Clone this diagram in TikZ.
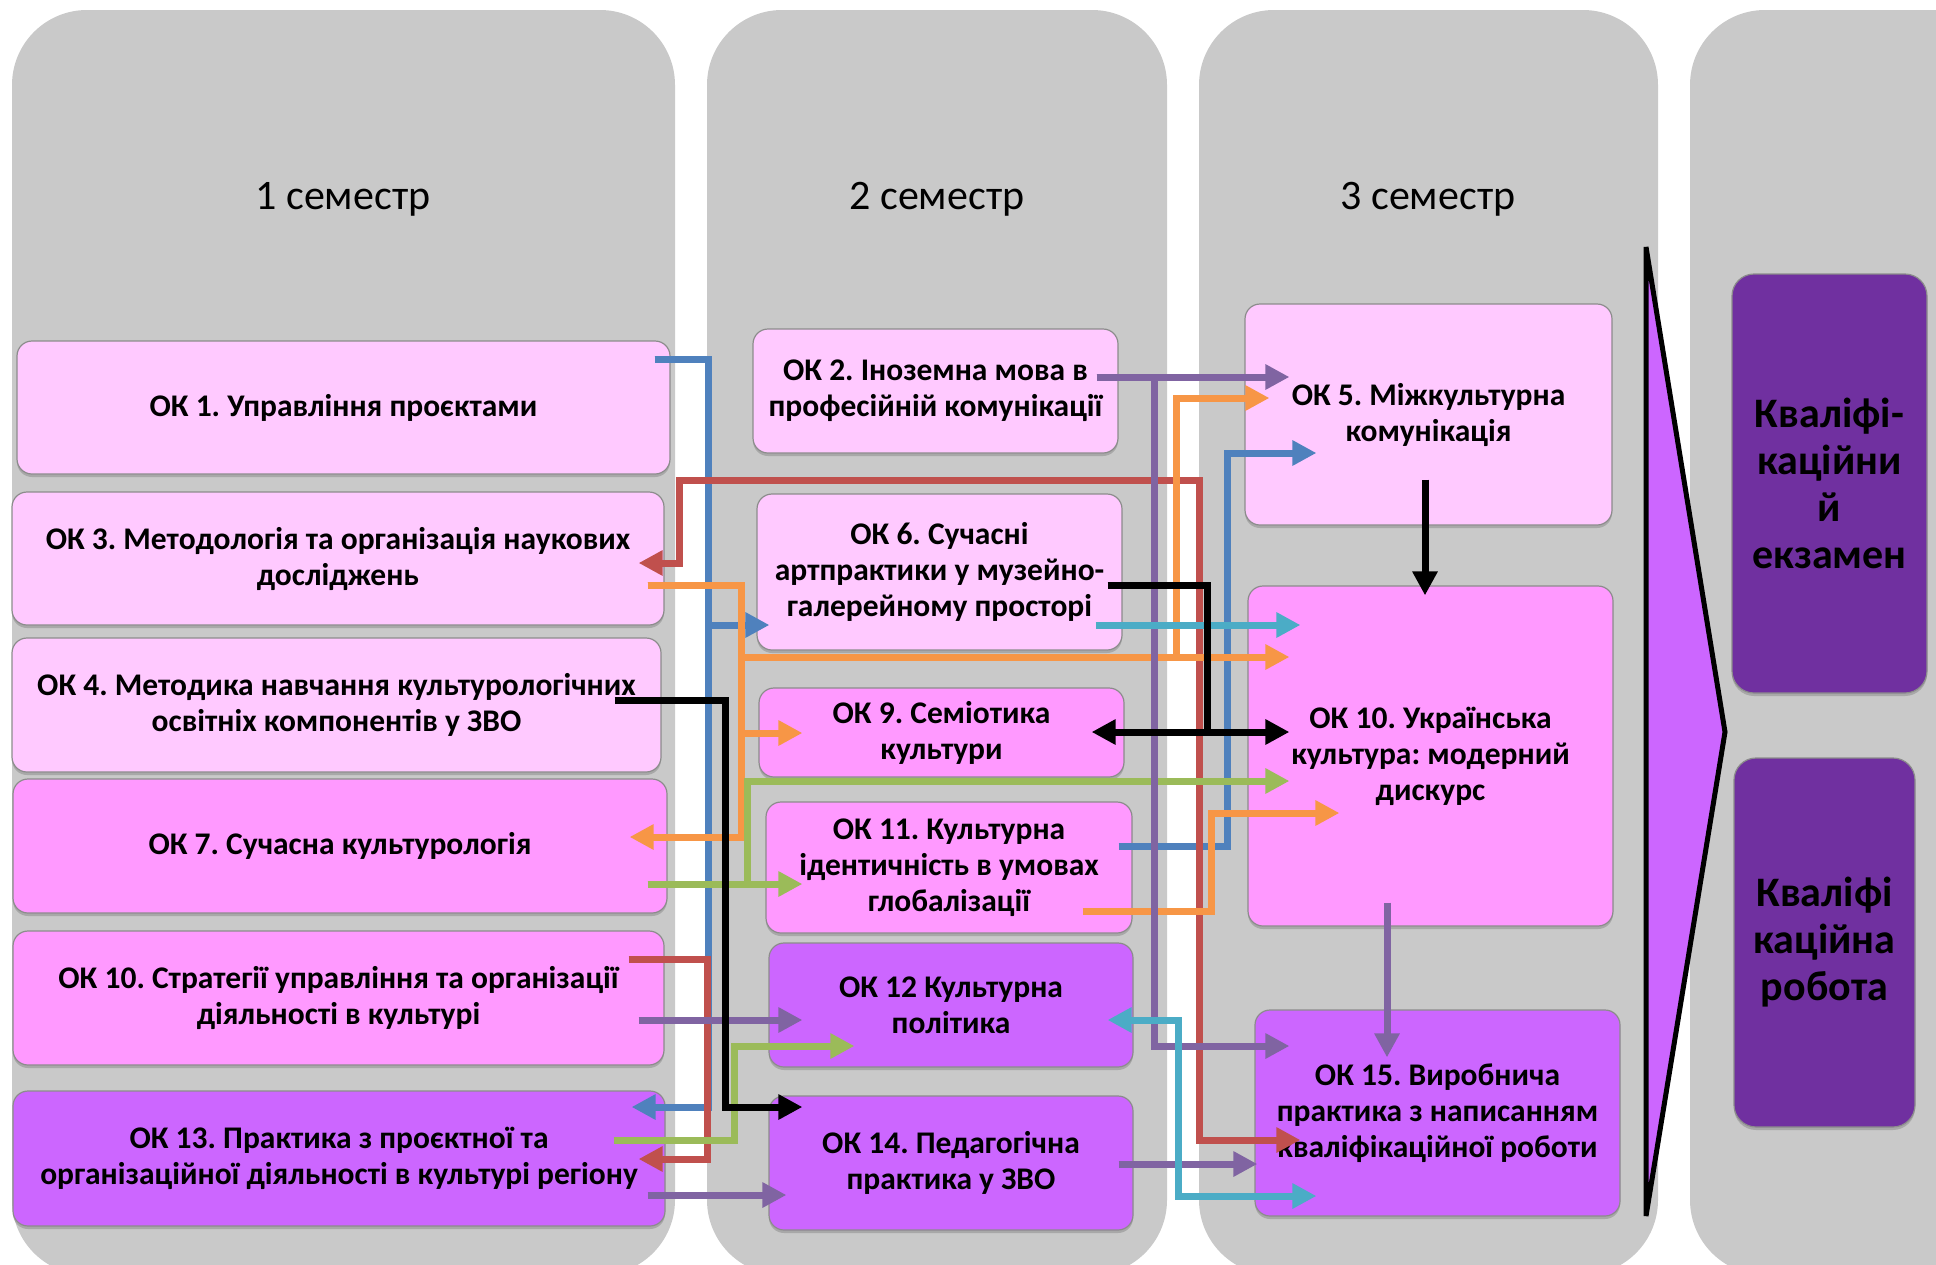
\documentclass[tikz,border=0pt]{standalone}
\usepackage{fontspec}
\setmainfont{Carlito}
\frenchspacing
\usetikzlibrary{arrows.meta,shadows,calc}
\definecolor{colgray}{HTML}{C9C9C9}
\definecolor{pinkA}{HTML}{FFC9FF}
\definecolor{pinkB}{HTML}{FF99FF}
\definecolor{violetC}{HTML}{CC66FF}
\definecolor{darkviolet}{HTML}{7030A0}
\definecolor{cBlue}{HTML}{4F81BD}
\definecolor{cRed}{HTML}{C0504D}
\definecolor{cOrange}{HTML}{F79646}
\definecolor{cGreen}{HTML}{9BBB59}
\definecolor{cPurple}{HTML}{8064A2}
\definecolor{cTeal}{HTML}{4BACC6}
\begin{document}
\begin{tikzpicture}[x=1pt,y=-1pt,
  col/.style={fill=colgray, rounded corners=75pt},
  hdr/.style={font=\fontsize{42}{50}\selectfont},
  okbox/.style={draw=black!45, line width=1.2pt, rounded corners=15pt, inner sep=0pt, align=center,
     font=\fontsize{31.5}{36}\selectfont\bfseries,
     drop shadow={shadow xshift=0pt, shadow yshift=-3pt, opacity=0.45}},
  boxA/.style={okbox, fill=pinkA},
  boxB/.style={okbox, fill=pinkB},
  boxC/.style={okbox, fill=violetC},
  fin/.style={okbox, fill=darkviolet, rounded corners=22pt, font=\fontsize{42}{47}\selectfont\bfseries},
  sz/.style 2 args={minimum width=#1pt, minimum height=#2pt},
  cn/.style={line width=7pt, -{Triangle[length=24pt,width=24pt]}},
  cn2/.style={line width=7pt, {Triangle[length=24pt,width=24pt]}-{Triangle[length=24pt,width=24pt]}},
  cnl/.style={line width=7pt}
]
\useasboundingbox (0,0) rectangle (1936,1264);
\clip (0,0) rectangle (1936,1264);
% columns
\fill[col] (12,10) rectangle (675,1275);
\fill[col] (707,10) rectangle (1167,1275);
\fill[col] (1199,10) rectangle (1658,1275);
\fill[col] (1690,10) rectangle (2010,1275);
% headers
\node[hdr] (h1) at (343,199) {1 семестр};
\node[hdr] (h2) at (937,199) {2 семестр};
\node[hdr] (h3) at (1428,199) {3 семестр};
% column 1
\node[boxA, sz={653}{133}] (ok1) at (343.5,407.5) {ОК 1. Управління проєктами};
\node[boxA, sz={652}{133}] (ok3) at (338,558.5) {ОК 3. Методологія та організація наукових\\досліджень};
\node[boxA, sz={649}{134}] (ok4) at (336.5,705) {ОК 4. Методика навчання культурологічних\\освітніх компонентів у ЗВО};
\node[boxB, sz={654}{134}] (ok7) at (340,846) {ОК 7. Сучасна культурологія};
\node[boxB, sz={651}{134}] (ok10s) at (338.5,998) {ОК 10. Стратегії управління та організації\\діяльності в культурі};
\node[boxC, sz={652}{135}] (ok13) at (339,1158.5) {ОК 13. Практика з проєктної та\\організаційної діяльності в культурі регіону};
% column 2
\node[boxA, sz={365}{124}] (ok2) at (935.5,391) {ОК 2. Іноземна мова в\\професійній комунікації};
\node[boxA, sz={365}{156}] (ok6) at (939.5,572) {ОК 6. Сучасні\\артпрактики у музейно-\\галерейному просторі};
\node[boxB, sz={365}{89}] (ok9) at (941.5,732.5) {ОК 9. Семіотика\\культури};
\node[boxB, sz={366}{131}] (ok11) at (949,867.5) {ОК 11. Культурна\\ідентичність в умовах\\глобалізації};
\node[boxC, sz={364}{124}] (ok12) at (951,1005) {ОК 12 Культурна\\політика};
\node[boxC, sz={364}{134}] (ok14) at (951,1163) {ОК 14. Педагогічна\\практика у ЗВО};
% column 3
\node[boxA, sz={367}{221}] (ok5) at (1428.5,414.5) {ОК 5. Міжкультурна\\комунікація};
\node[boxB, sz={365}{340}] (ok10u) at (1430.5,756) {ОК 10. Українська\\культура: модерний\\дискурс};
\node[boxC, sz={365}{206}] (ok15) at (1437.5,1113) {ОК 15. Виробнича\\практика з написанням\\кваліфікаційної роботи};
% column 4
\node[fin, sz={195}{419}] (exam) at (1829.5,483.5) {Кваліфі-\\каційни\\й\\екзамен};
\node[fin, sz={181}{369}] (thesis) at (1824.5,942.5) {Кваліфі\\каційна\\робота};
% chevron
\draw[line width=5pt, fill=violetC, line join=miter] (1646,247) -- (1725,732) -- (1646,1216) -- cycle;
% blue
\draw[cn, cBlue] ($(ok1.east|-0,359)+(-16,0)$) -| (708,625) -- ($(ok6.west|-0,625)+(13,0)$);
\draw[cn, cBlue] ($(ok1.east|-0,359)+(-16,0)$) -| (708,1107) -- ($(ok13.east|-0,1107)+(-34,0)$);
\draw[cn, cBlue] ($(ok11.east|-0,846)+(-14,0)$) -| (1227,453) -- ($(ok5.west|-0,453)+(72,0)$);
% red
\draw[cn2, cRed] ($(ok3.east|-0,563)+(-26,0)$) -| (679,480) -| (1199,1140) -- ($(ok15.west|-0,1140)+(46,0)$);
\draw[cn, cRed] ($(ok10s.east|-0,959)+(-36,0)$) -| (707,1159) -- ($(ok13.east|-0,1159)+(-27,0)$);
% orange
\draw[cn, cOrange] ($(ok3.east|-0,585)+(-17,0)$) -| (741,657) -- ($(ok10u.west|-0,657)+(42,0)$);
\draw[cn, cOrange] ($(ok3.east|-0,585)+(-17,0)$) -| (741,657) -| (1176,398) -- ($(ok5.west|-0,398)+(25,0)$);
\draw[cn, cOrange] ($(ok3.east|-0,585)+(-17,0)$) -| (741,733) -- ($(ok9.west|-0,733)+(44,0)$);
\draw[cn, cOrange] ($(ok3.east|-0,585)+(-17,0)$) -| (741,837) -- ($(ok7.east|-0,837)+(-38,0)$);
\draw[cn, cOrange] ($(ok11.east|-0,911)+(-50,0)$) -| (1211,813) -- ($(ok10u.west|-0,813)+(92,0)$);
% green
\draw[cn, cGreen] ($(ok7.east|-0,884)+(-20,0)$) -- ($(ok11.west|-0,884)+(37,0)$);
\draw[cn, cGreen] ($(ok7.east|-0,884)+(-20,0)$) -| (747,781) -- ($(ok10u.west|-0,781)+(42,0)$);
\draw[cn, cGreen] ($(ok13.east|-0,1140)+(-52,0)$) -| (734,1046) -- ($(ok12.west|-0,1046)+(86,0)$);
% purple
\draw[cn, cPurple] ($(ok2.east|-0,377)+(-22,0)$) -- ($(ok5.west|-0,377)+(45,0)$);
\draw[cn, cPurple] ($(ok2.east|-0,377)+(-22,0)$) -| (1154,1046) -- ($(ok15.west|-0,1046)+(35,0)$);
\draw[cn, cPurple] ($(ok10s.east|-0,1020)+(-26,0)$) -- ($(ok12.west|-0,1020)+(34,0)$);
\draw[cn, cPurple] ($(ok13.east|-0,1195)+(-18,0)$) -- ($(ok14.west|-0,1195)+(18,0)$);
\draw[cn, cPurple] ($(ok14.east|-0,1164)+(-15,0)$) -- ($(ok15.west|-0,1164)+(3,0)$);
\draw[cn, cPurple] ($(ok10u.south-|1387,0)+(0,-24)$) -- ($(ok15.north-|1387,0)+(0,48)$);
% teal
\draw[cn, cTeal] ($(ok6.east|-0,625)+(-27,0)$) -- ($(ok10u.west|-0,625)+(53,0)$);
\draw[cn2, cTeal] ($(ok12.east|-0,1020)+(-26,0)$) -| (1178,1196) -- ($(ok15.west|-0,1196)+(62,0)$);
% black
\coordinate (kj) at (1207,732);
\draw[cn, black] ($(ok4.east|-0,700)+(-47,0)$) -| (725,1107) -- ($(ok14.west|-0,1107)+(34,0)$);
\draw[cnl, black] ($(ok6.east|-0,585)+(-15,0)$) -| (kj);
\draw[cn2, black] ($(ok9.east|-0,732)+(-33,0)$) -- ($(ok10u.west|-0,732)+(42,0)$);
\draw[cn, black] ($(ok5.south-|1425,0)+(0,-46)$) -- ($(ok10u.north-|1425,0)+(0,10)$);
\end{tikzpicture}
\end{document}
